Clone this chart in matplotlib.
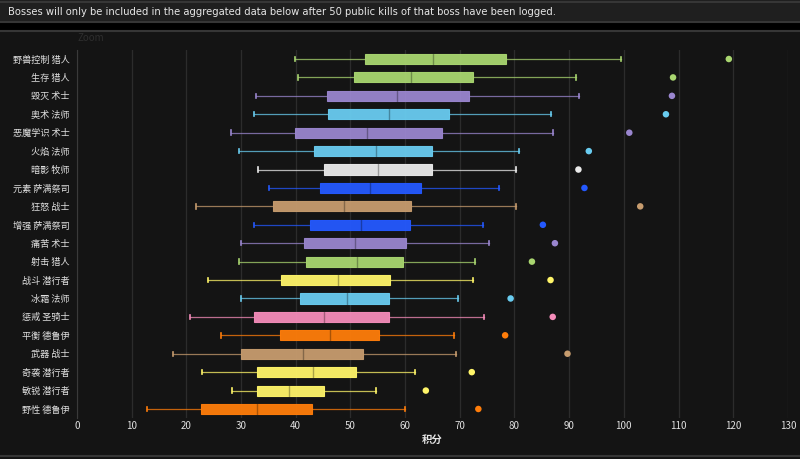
import matplotlib.pyplot as plt
from matplotlib.patches import Rectangle

plt.rcParams['font.family'] = ['Noto Sans CJK SC', 'DejaVu Sans']

specs = ['野兽控制 猎人', '生存 猎人', '毁灭 术士', '奥术 法师', '恶魔学识 术士',
         '火焰 法师', '暗影 牧师', '元素 萨满祭司', '狂怒 战士', '增强 萨满祭司',
         '痛苦 术士', '射击 猎人', '战斗 潜行者', '冰霜 法师', '惩戒 圣骑士',
         '平衡 德鲁伊', '武器 战士', '奇袭 潜行者', '敏锐 潜行者', '野性 德鲁伊']

low = [39.8, 40.5, 32.7, 32.4, 28.1, 29.7, 33.2, 35.2, 21.7, 32.3,
       30.0, 29.7, 23.9, 30.0, 20.6, 26.4, 17.6, 22.9, 28.3, 12.9]
q1 = [52.7, 50.6, 45.7, 45.9, 39.8, 43.3, 45.2, 44.5, 35.8, 42.7,
      41.5, 41.8, 37.3, 40.8, 32.3, 37.2, 30.0, 32.9, 32.9, 22.6]
median = [65.1, 61.0, 58.6, 57.0, 53.0, 54.6, 55.1, 53.5, 48.9, 52.0,
          50.8, 51.2, 47.7, 49.3, 45.2, 46.3, 41.3, 43.1, 38.7, 33.0]
q3 = [78.4, 72.4, 71.7, 68.0, 66.7, 65.0, 65.0, 62.9, 61.1, 60.9,
      60.1, 59.7, 57.3, 57.1, 57.1, 55.3, 52.4, 51.1, 45.1, 43.0]
high = [99.5, 91.3, 91.8, 86.7, 87.0, 80.8, 80.2, 77.2, 80.2, 74.3,
        75.3, 72.7, 72.4, 69.7, 74.5, 68.9, 69.3, 61.8, 54.6, 60.0]
outlier = [119.2, 109.0, 108.8, 107.7, 101.0, 93.6, 91.7, 92.8, 103.0, 85.2,
           87.4, 83.2, 86.6, 79.3, 87.0, 78.3, 89.7, 72.2, 63.8, 73.4]

class_colors = {'猎人': '#a9d670', '术士': '#9a86cf', '法师': '#69ccf0', '牧师': '#ebebeb',
                '萨满祭司': '#2459ff', '战士': '#c79c6e', '潜行者': '#fff569',
                '圣骑士': '#f58cba', '德鲁伊': '#ff7d0a'}
colors = [class_colors[s.split(' ')[1]] for s in specs]

bg = '#141414'
fig = plt.figure(figsize=(8, 4.59), dpi=100)
fig.patch.set_facecolor(bg)

# banner at the top
fig.patches.append(Rectangle((0, 1 - 22 / 459), 1, 22 / 459, transform=fig.transFigure,
                             facecolor='#1f1f1f', edgecolor='none'))
fig.patches.append(Rectangle((0, 1 - 30 / 459), 1, 8 / 459, transform=fig.transFigure,
                             facecolor='#000000', edgecolor='none'))
for yy in [1 - 1.5 / 459, 1 - 21.5 / 459, 1 - 30.5 / 459, 3 / 459]:
    fig.add_artist(plt.Line2D([0, 1], [yy, yy], transform=fig.transFigure, color='#363636', lw=1.5))
fig.text(8 / 800, 1 - 12 / 459, 'Bosses will only be included in the aggregated data below after 50 public kills of that boss have been logged.',
         color='#e6e6e6', fontsize=7.2, va='center', ha='left', family=['DejaVu Sans'])
fig.text(77 / 800, 1 - 38 / 459, 'Zoom', color='#2e2e2e', fontsize=7, va='center', ha='left')

ax = fig.add_axes([76.9 / 800, 40.8 / 459, 711 / 800, 368.4 / 459])
ax.set_facecolor(bg)

pos = list(range(len(specs)))
h = 0.55
for i in pos:
    c = colors[i]
    ax.plot([low[i], q1[i]], [i, i], color=c, lw=0.9, alpha=0.75, zorder=2)
    ax.plot([q3[i], high[i]], [i, i], color=c, lw=0.9, alpha=0.75, zorder=2)
    ax.plot([low[i], low[i]], [i - 0.12, i + 0.12], color=c, lw=1.2, zorder=2)
    ax.plot([high[i], high[i]], [i - 0.12, i + 0.12], color=c, lw=1.2, zorder=2)
    ax.add_patch(Rectangle((q1[i], i - h / 2), q3[i] - q1[i], h, facecolor=c,
                           edgecolor=c, lw=0.8, alpha=0.95, zorder=3))
    ax.plot([median[i], median[i]], [i - h / 2, i + h / 2], color='black', alpha=0.3, lw=1.0, zorder=4)
    ax.scatter(outlier[i], i, s=22, color=c, zorder=4, edgecolors='none')

ax.set_xlim(0, 130)
ax.set_ylim(len(specs) - 0.5, -0.5)
ax.set_xticks(range(0, 131, 10))
ax.set_yticks(pos)
ax.set_yticklabels(specs)
ax.grid(axis='x', color='#2c2c2c', lw=0.9)
ax.set_axisbelow(True)
for s in ['top', 'right', 'bottom']:
    ax.spines[s].set_visible(False)
ax.spines['left'].set_color('#3a3a3a')
ax.tick_params(axis='y', length=0, pad=5, labelsize=6.6, labelcolor='#e0e0e0')
ax.tick_params(axis='x', length=0, pad=2, labelsize=7, labelcolor='#e0e0e0')
ax.set_xlabel('积分', color='#e6e6e6', fontsize=7.5, fontweight='bold', labelpad=3)

fig.savefig('out.png', dpi=100, facecolor=bg)
